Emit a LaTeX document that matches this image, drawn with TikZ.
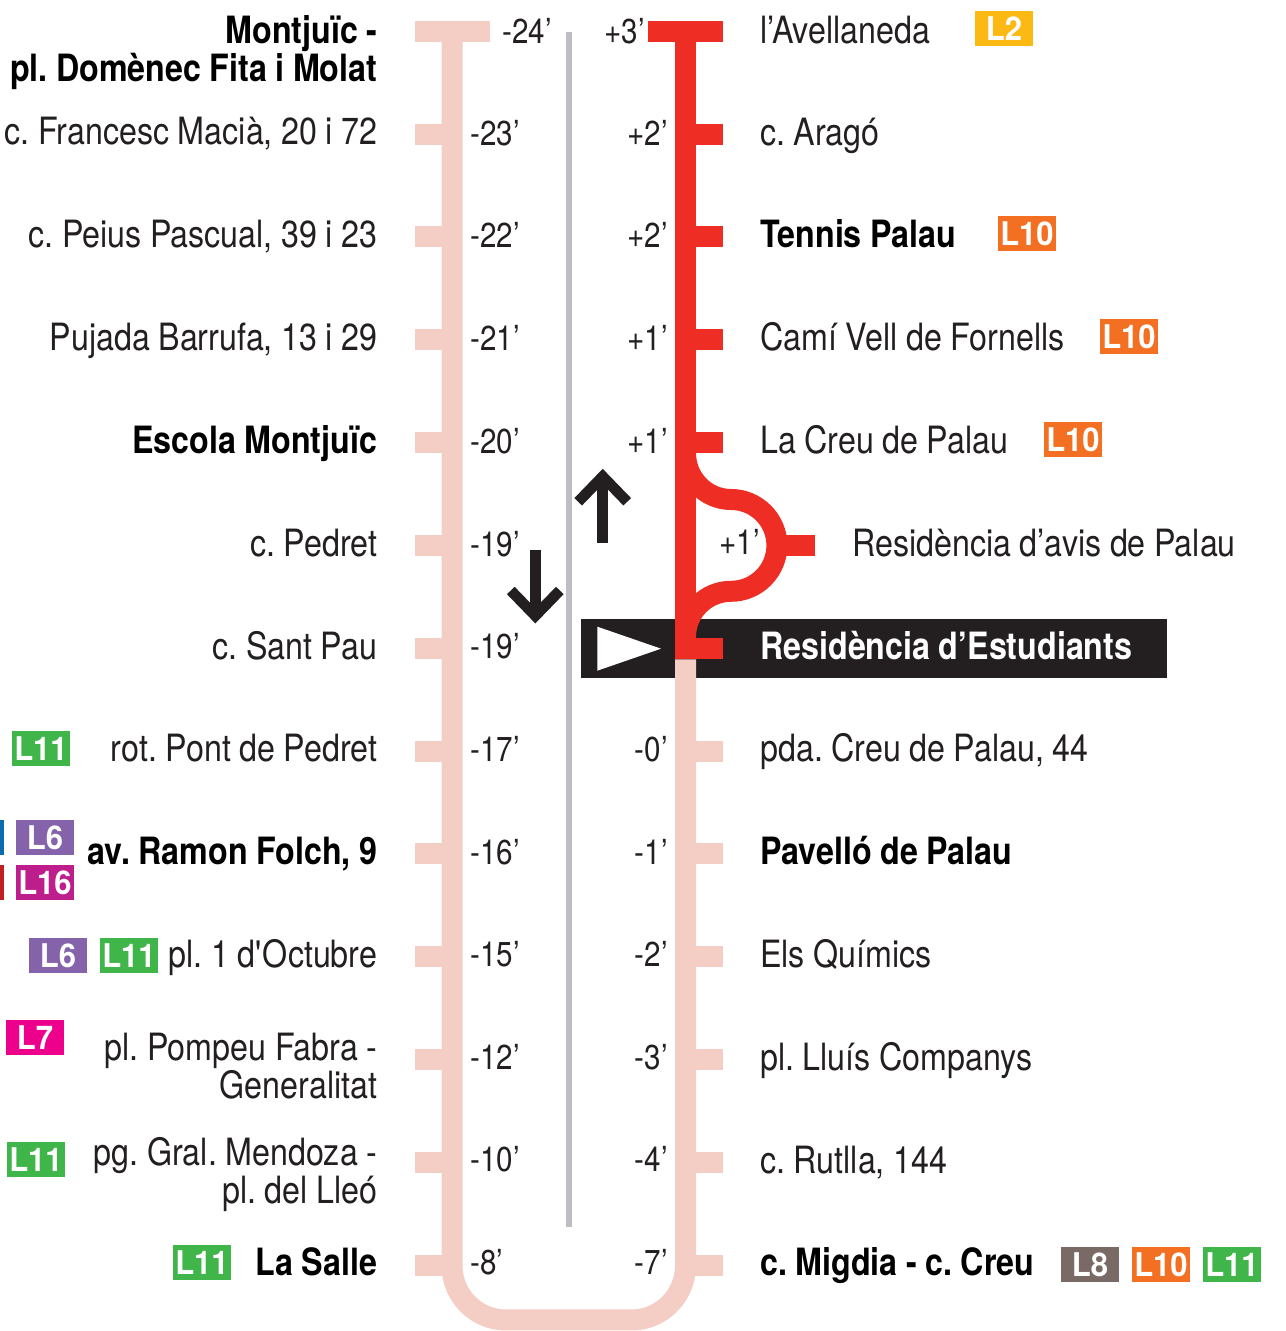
\documentclass[tikz,border=0pt]{standalone}
\usepackage{fontspec}
\usepackage{xcolor}
\setmainfont{TeX Gyre Heros}[FakeStretch=0.857, WordSpace=0.95]
\newfontfamily\badgefont{TeX Gyre Heros}[FakeStretch=0.95]
\frenchspacing
\definecolor{ink}{HTML}{231F20}
\definecolor{redline}{HTML}{EE2E24}
\definecolor{pinkline}{HTML}{F4CDC4}
\definecolor{greyline}{HTML}{BCBEC4}
\definecolor{lgreen}{HTML}{3FB54A}
\definecolor{lpurple}{HTML}{8563AB}
\definecolor{lmagenta}{HTML}{BE1E8C}
\definecolor{lpink}{HTML}{EC008C}
\definecolor{lyellow}{HTML}{FDB913}
\definecolor{lorange}{HTML}{F36F21}
\definecolor{lbrown}{HTML}{7A6A66}
\definecolor{lblue}{HTML}{0A6BAE}
\definecolor{lred}{HTML}{BE2026}
\usetikzlibrary{arrows.meta, positioning}

\begin{document}
\begin{tikzpicture}[
x=0.75pt, y=0.75pt,
stopleft/.style={anchor=base east, inner sep=0pt, align=right, text=ink, font=\fontsize{28.2}{28.5}\selectfont},
stopright/.style={anchor=base west, inner sep=0pt, text=ink, font=\fontsize{28.2}{28.5}\selectfont},
stopbold/.style={text=black, font=\fontsize{28.2}{28.5}\selectfont\bfseries},
timeleft/.style={anchor=base west, inner sep=0pt, text=ink, font=\fontsize{25.9}{28}\selectfont},
timeright/.style={anchor=base east, inner sep=0pt, text=ink, font=\fontsize{25.9}{28}\selectfont},
badge/.style={rectangle, inner sep=0pt, minimum width=43.5pt, minimum height=26.25pt, text=white, font=\badgefont\fontsize{24.5}{25}\selectfont\bfseries},
sliver/.style={rectangle, inner sep=0pt, minimum width=3pt, minimum height=26.25pt},
pinktrack/.style={draw=pinkline, line width=15.75pt},
redtrack/.style={draw=redline, line width=15.75pt},
dirarrow/.style={draw=ink, line width=8pt}
]
	\useasboundingbox (0,0) rectangle (1285,1331);
	% band of the current stop
	\node[rectangle, fill=ink, inner sep=0pt, minimum width=439.5pt, minimum height=44pt] (band) at (874,682.6) {};
	\fill[white] (597.3,704.3) -- (597.3,660.3) -- (661,682.3) -- cycle;
	% stops, left side
	\coordinate (a1) at (452,1299);
	\coordinate (a2) at (452,1196.5);
	\coordinate (a3) at (452,1094);
	\coordinate (a4) at (452,991);
	\coordinate (a5) at (452,888);
	\coordinate (a6) at (452,785.5);
	\coordinate (a7) at (452,682.5);
	\coordinate (a8) at (452,579.5);
	\coordinate (a9) at (452,477);
	\coordinate (a10) at (452,374);
	\coordinate (a11) at (452,271);
	\coordinate (a12) at (452,168);
	\coordinate (a13) at (452,65.5);
	% stops, right side
	\coordinate (b1) at (685.5,1299);
	\coordinate (b2) at (685.5,1196.5);
	\coordinate (b3) at (685.5,1094);
	\coordinate (b4) at (685.5,991);
	\coordinate (b5) at (685.5,888);
	\coordinate (b7) at (685.5,682.5);
	\coordinate (b8) at (685.5,579.5);
	\coordinate (b9) at (685.5,477);
	\coordinate (b10) at (685.5,374);
	\coordinate (b11) at (685.5,271);
	\coordinate (b12) at (685.5,168);
	\coordinate (b13) at (685.5,65.5);
	\coordinate (redend) at (685.5,671.5);
	\coordinate (bottoml) at (506,11);
	\coordinate (bottomr) at (631.5,11);
	\coordinate (loopin) at (685.5,878);
	\coordinate (looptop) at (731,831.5);
	\coordinate (loopout) at (685.5,694);
	\coordinate (loopstop) at (775,785.5);
	% middle line and direction arrows
	\coordinate (midtop) at (569,1299);
	\coordinate (midbot) at (569,104.3);
	\draw[draw=greyline, line width=4.2pt] (midtop) -- (midbot);
	\draw[dirarrow] (602.7,788) -- (602.7,851);
	\draw[dirarrow] (578.2,829.2) -- (602.7,854.5) -- (627.2,829.2);
	\draw[dirarrow] (535.3,781) -- (535.3,721);
	\draw[dirarrow] (510.8,740.5) -- (535.3,715.2) -- (559.8,740.5);
	% track
	\draw[pinktrack] (a1) -- (a13) to[out=-90, in=180] (bottoml) -- (bottomr) to[out=0, in=-90] (b13) -- (redend);
	\draw[pinktrack] (415,1299) -- (490,1299);
	\draw[pinktrack] (415,1196.5) -- (a2);
	\draw[pinktrack] (415,1094) -- (a3);
	\draw[pinktrack] (415,991) -- (a4);
	\draw[pinktrack] (415,888) -- (a5);
	\draw[pinktrack] (415,785.5) -- (a6);
	\draw[pinktrack] (415,682.5) -- (a7);
	\draw[pinktrack] (415,579.5) -- (a8);
	\draw[pinktrack] (415,477) -- (a9);
	\draw[pinktrack] (415,374) -- (a10);
	\draw[pinktrack] (415,271) -- (a11);
	\draw[pinktrack] (415,168) -- (a12);
	\draw[pinktrack] (415,65.5) -- (a13);
	\draw[pinktrack] (b8) -- (723,579.5);
	\draw[pinktrack] (b9) -- (723,477);
	\draw[pinktrack] (b10) -- (723,374);
	\draw[pinktrack] (b11) -- (723,271);
	\draw[pinktrack] (b12) -- (723,168);
	\draw[pinktrack] (b13) -- (723,65.5);
	\draw[redtrack] (b1) -- (redend);
	\draw[redtrack] (648,1299) -- (723,1299);
	\draw[redtrack] (b2) -- (723,1196.5);
	\draw[redtrack] (b3) -- (723,1094);
	\draw[redtrack] (b4) -- (723,991);
	\draw[redtrack] (b5) -- (723,888);
	\draw[redtrack] (b7) -- (723,682.5);
	\draw[redtrack] (loopin) to[out=-90, in=180] (looptop) arc (90:-90:45.9) to[out=180, in=90] (loopout);
	\draw[redtrack] (loopstop) -- (815,785.5);
	% stop names, left
	\node[stopleft, stopbold, anchor=north east] (s1) at (377.5,1316) {Montjuïc -\\pl. Domènec Fita i Molat};
	\node[stopleft] (s2) at (377.5,1186) {c. Francesc Macià, 20 i 72};
	\node[stopleft] (s3) at (377.5,1083) {c. Peius Pascual, 39 i 23};
	\node[stopleft] (s4) at (377.5,980) {Pujada Barrufa, 13 i 29};
	\node[stopleft, stopbold] (s5) at (377.5,877) {Escola Montjuïc};
	\node[stopleft] (s6) at (377.5,774) {c. Pedret};
	\node[stopleft] (s7) at (377.5,671) {c. Sant Pau};
	\node[stopleft] (s8) at (377.5,569) {rot. Pont de Pedret};
	\node[stopleft, stopbold] (s9) at (377.5,466) {av. Ramon Folch, 9};
	\node[stopleft] (s10) at (377.5,363) {pl. 1 d\textquotesingle Octubre};
	\node[stopleft, anchor=north east] (s11) at (377.5,298.5) {pl. Pompeu Fabra -\\Generalitat};
	\node[stopleft, anchor=north east] (s12) at (377.5,193.5) {pg. Gral. Mendoza -\\pl. del Lleó};
	\node[stopleft, stopbold] (s13) at (377.5,55) {La Salle};
	% stop names, right
	\node[stopright] (r1) at (760,1287) {l’Avellaneda};
	\node[stopright] (r2) at (760,1185) {c. Aragó};
	\node[stopright, stopbold] (r3) at (760,1083) {Tennis Palau};
	\node[stopright] (r4) at (760,980) {Camí Vell de Fornells};
	\node[stopright] (r5) at (760,877) {La Creu de Palau};
	\node[stopright] (r6) at (852,774) {Residència d’avis de Palau};
	\node[stopright, stopbold, text=white] (r7) at (760,671) {Residència d’Estudiants};
	\node[stopright] (r8) at (760,569) {pda. Creu de Palau, 44};
	\node[stopright, stopbold] (r9) at (760,466) {Pavelló de Palau};
	\node[stopright] (r10) at (760,363) {Els Químics};
	\node[stopright] (r11) at (760,260) {pl. Lluís Companys};
	\node[stopright] (r12) at (760,157) {c. Rutlla, 144};
	\node[stopright, stopbold] (r13) at (760,55) {c. Migdia - c. Creu};
	% minutes
	\node[timeleft] (t1) at (502,1287) {-24’};
	\node[timeleft] (t2) at (470,1185) {-23’};
	\node[timeleft] (t3) at (470,1083) {-22’};
	\node[timeleft] (t4) at (470,980) {-21’};
	\node[timeleft] (t5) at (470,877) {-20’};
	\node[timeleft] (t6) at (470,774) {-19’};
	\node[timeleft] (t7) at (470,672) {-19’};
	\node[timeleft] (t8) at (470,569) {-17’};
	\node[timeleft] (t9) at (470,466) {-16’};
	\node[timeleft] (t10) at (470,364) {-15’};
	\node[timeleft] (t11) at (470,261) {-12’};
	\node[timeleft] (t12) at (470,159) {-10’};
	\node[timeleft] (t13) at (470,56) {-8’};
	\node[timeright] (u1) at (645,1287) {+3’};
	\node[timeright] (u2) at (668,1185) {+2’};
	\node[timeright] (u3) at (668,1083) {+2’};
	\node[timeright] (u4) at (668,980) {+1’};
	\node[timeright] (u5) at (668,877) {+1’};
	\node[timeright] (u6) at (760,776) {+1’};
	\node[timeright] (u8) at (668,569) {-0’};
	\node[timeright] (u9) at (668,466) {-1’};
	\node[timeright] (u10) at (668,364) {-2’};
	\node[timeright] (u11) at (668,261) {-3’};
	\node[timeright] (u12) at (668,159) {-4’};
	\node[timeright] (u13) at (668,56) {-7’};
	% line badges
	\node[badge, fill=lyellow] (l1) at (1004,1302) {L2};
	\node[badge, fill=lorange] (l2) at (1027,1097) {L10};
	\node[badge, fill=lorange] (l3) at (1129,994) {L10};
	\node[badge, fill=lorange] (l4) at (1073,891) {L10};
	\node[badge, fill=lbrown] (l5) at (1090,66) {L8};
	\node[badge, fill=lorange] (l6) at (1161,66) {L10};
	\node[badge, fill=lgreen] (l7) at (1232,66) {L11};
	\node[badge, fill=lgreen] (l8) at (41,582.5) {L11};
	\node[badge, fill=lpurple] (l9) at (45,493.5) {L6};
	\node[badge, fill=lmagenta] (l10) at (45,448.5) {L16};
	\node[badge, fill=lpurple] (l11) at (58,375.5) {L6};
	\node[badge, fill=lgreen] (l12) at (129,375.5) {L11};
	\node[badge, fill=lpink] (l13) at (35,293.5) {L7};
	\node[badge, fill=lgreen] (l14) at (36,171.5) {L11};
	\node[badge, fill=lgreen] (l15) at (202,68.5) {L11};
	\node[sliver, fill=lblue] (l16) at (2,493.5) {};
	\node[sliver, fill=lred] (l17) at (2,448.5) {};
\end{tikzpicture}
\end{document}
